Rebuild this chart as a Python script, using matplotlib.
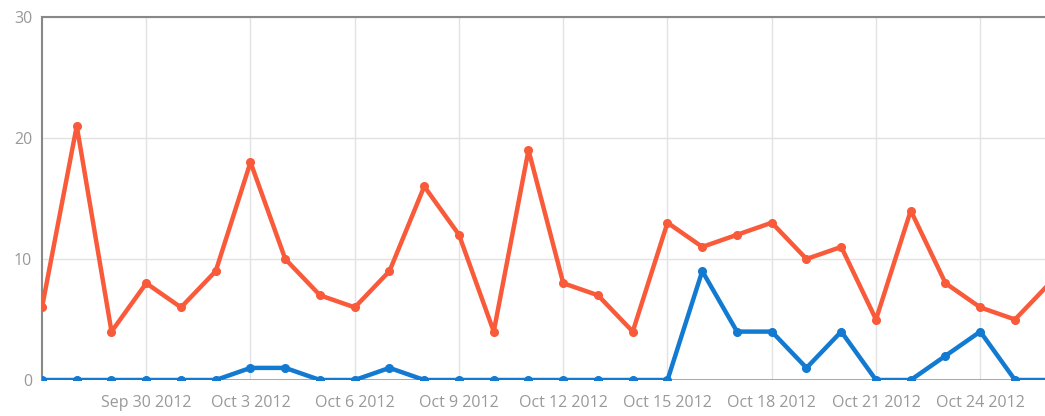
import matplotlib
matplotlib.use("Agg")
import matplotlib.pyplot as plt
import matplotlib.dates as mdates
import numpy as np
import datetime as dt

dates = [dt.date(2012, 9, 27) + dt.timedelta(days=i) for i in range(30)]
red_values = [6, 21, 4, 8, 6, 9, 18, 10, 7, 6, 9, 16, 12, 4, 19, 8, 7, 4, 13, 11,
              12, 13, 10, 11, 5, 14, 8, 6, 5, 8]
blue_values = [0, 0, 0, 0, 0, 0, 1, 1, 0, 0, 1, 0, 0, 0, 0, 0, 0, 0, 0, 9,
               4, 4, 1, 4, 0, 0, 2, 4, 0, 0]
yticks = [0, 10, 20, 30]

plt.rcParams['font.family'] = ['Open Sans', 'DejaVu Sans']

fig = plt.figure(figsize=(10.45, 4.16), dpi=100)
ax = fig.add_axes([42/1045, 1-380/416, 1-42/1045, (380-17)/416])

red = '#f85a3a'
blue = '#137ad2'
ax.plot(dates, red_values, color=red, lw=3.2, marker='o', ms=5.5, zorder=3)
ax.plot(dates, blue_values, color=blue, lw=3.2, marker='o', ms=5.5, zorder=4)

x0 = mdates.date2num(dt.datetime(2012, 9, 27))
ax.set_xlim(x0, x0 + 1003/34.75)
ax.set_ylim(0, 30)
ax.set_yticks(yticks)
tick_dates = [dt.date(2012, 9, 30) + dt.timedelta(days=3*i) for i in range(9)]
ax.set_xticks(tick_dates)
ax.set_xticklabels([f"{d.strftime('%b')} {d.day} {d.year}" for d in tick_dates])

ax.grid(True, color='#e2e2e2', lw=1)
ax.set_axisbelow(True)
for s in ['right', 'bottom']:
    ax.spines[s].set_visible(False)
ax.spines['left'].set_color('#888888')
ax.spines['left'].set_linewidth(1.5)
ax.spines['top'].set_color('#888888')
ax.spines['top'].set_linewidth(1.5)
ax.axhline(0, color='#999999', lw=1.2, zorder=2)
ax.tick_params(length=0, colors='#999999', labelsize=11.5)
ax.tick_params(axis='y', pad=7)
ax.tick_params(axis='x', pad=11)

fig.savefig('out.png', dpi=100)
